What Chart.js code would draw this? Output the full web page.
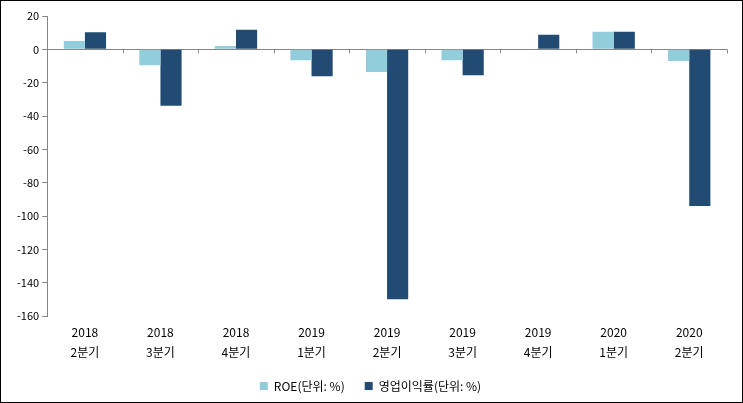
<!DOCTYPE html>
<html>
<head>
<meta charset="utf-8">
<script src="https://cdn.jsdelivr.net/npm/chart.js@4/dist/chart.umd.min.js"></script>
<style>
  html, body { margin: 0; padding: 0; background: #fff; }
  #wrap { width: 743px; height: 403px; box-sizing: border-box; border: 1px solid #000; }
</style>
</head>
<body>
<div id="wrap"><canvas id="chart" width="741" height="401"></canvas></div>
<script>
// categories (year, quarter)
const years = ['2018', '2018', '2018', '2019', '2019', '2019', '2019', '2020', '2020'];
const quarters = ['2분기', '3분기', '4분기', '1분기', '2분기', '3분기', '4분기', '1분기', '2분기'];
// series values
const roe = [5.0, -9.5, 2.0, -6.5, -13.6, -6.5, 0, 10.5, -7.0];
const opMargin = [10.3, -33.9, 11.7, -16.2, -150, -15.6, 8.7, 10.5, -94];
// y ticks
const yMin = -160, yMax = 20, yStep = 20;

const labels = years.map((y, i) => [y, quarters[i]]);

// small tick marks under the zero line, between categories
const zeroTicks = {
    id: 'zeroTicks',
    afterDatasetsDraw(chart) {
        const x = chart.scales.x, y = chart.scales.y;
        const ctx = chart.ctx;
        const y0 = y.getPixelForValue(0);
        ctx.save();
        ctx.strokeStyle = '#868686';
        ctx.lineWidth = 1;
        for (let i = 0; i <= labels.length; i++) {
            const px = Math.round(x.getPixelForValue(i - 0.5)) + 0.5;
            ctx.beginPath();
            ctx.moveTo(px, y0);
            ctx.lineTo(px, y0 + 4);
            ctx.stroke();
        }
        ctx.restore();
    }
};

const font = { family: '"Noto Sans CJK KR", "DejaVu Sans", sans-serif', size: 11 };

new Chart(document.getElementById('chart'), {
    type: 'bar',
    data: {
        labels: labels,
        datasets: [{
            label: 'ROE(단위: %)',
            data: roe,
            backgroundColor: '#92cddc',
            categoryPercentage: 0.56,
            barPercentage: 1.0
        }, {
            label: '영업이익률(단위: %)',
            data: opMargin,
            backgroundColor: '#224b73',
            categoryPercentage: 0.56,
            barPercentage: 1.0
        }]
    },
    options: {
        responsive: false,
        animation: false,
        layout: { padding: { top: 15, right: 15, left: 13, bottom: 0 } },
        plugins: {
            tooltip: { enabled: false },
            legend: {
                position: 'bottom',
                labels: {
                    font: { family: font.family, size: 12 },
                    color: '#000',
                    boxWidth: 8,
                    boxHeight: 8,
                    padding: 20
                }
            }
        },
        scales: {
            x: {
                grid: { display: false },
                border: { display: false },
                ticks: { font: { family: font.family, size: 12, lineHeight: '20px' }, color: '#000', padding: -2, maxRotation: 0 }
            },
            y: {
                min: yMin,
                max: yMax,
                ticks: { stepSize: yStep, font: font, color: '#000', padding: 3 },
                border: { color: '#868686' },
                grid: {
                    color: (c) => c.tick && c.tick.value === 0 ? '#868686' : 'rgba(0,0,0,0)',
                    tickColor: '#868686',
                    tickLength: 5
                }
            }
        }
    },
    plugins: [zeroTicks]
});
</script>
</body>
</html>
